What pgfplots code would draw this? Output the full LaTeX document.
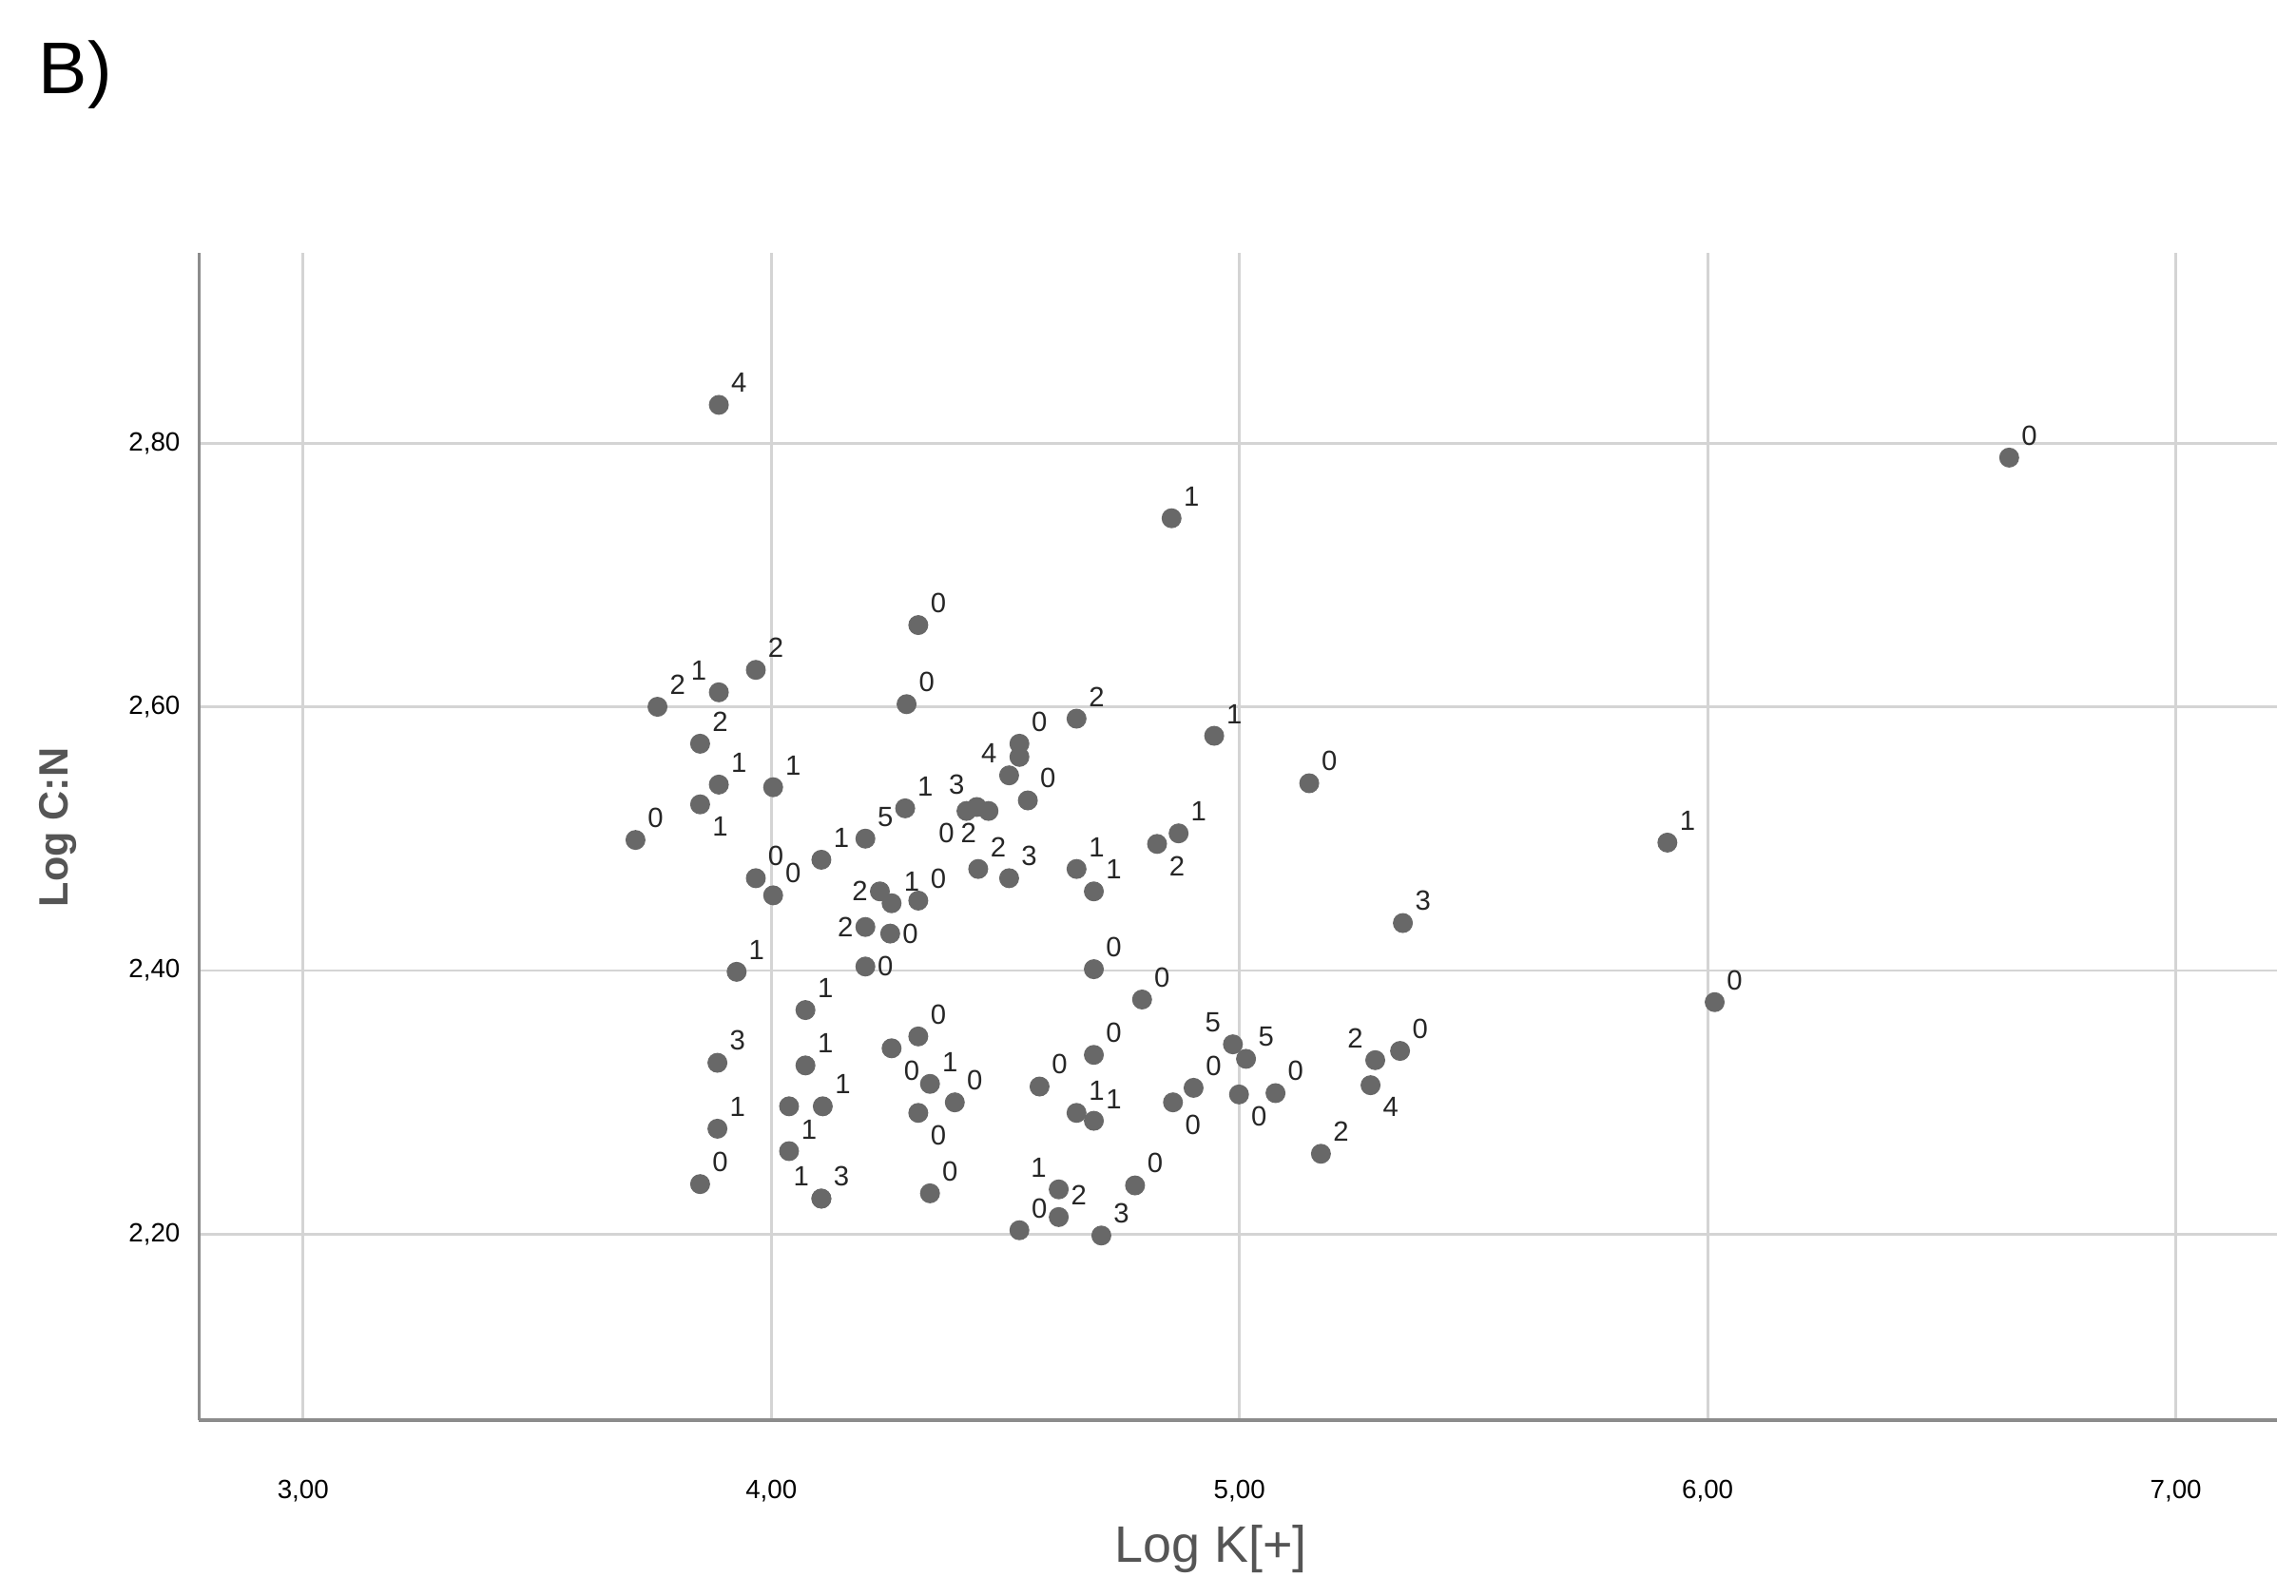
\documentclass[border=0pt]{standalone}
\usepackage{fontspec}
\setmainfont{Liberation Sans}
\usepackage{pgfplots}
\usepackage{pgfplotstable}
\pgfplotsset{compat=1.18}

\definecolor{dotgray}{RGB}{104,104,104}
\definecolor{gridgray}{RGB}{212,212,212}
\definecolor{axisgray}{RGB}{140,140,140}
\definecolor{labelgray}{RGB}{85,85,85}

% x = Log K[+], y = Log C:N, lab = case label
% grouped by where the label sits next to its point

% label up-right
\pgfplotstableread{
x     y     lab
3.888 2.829 4
6.644 2.789 0
4.855 2.743 1
4.314 2.662 0
3.967 2.628 2
3.757 2.600 2
4.289 2.602 0
4.652 2.591 2
3.848 2.572 2
4.946 2.578 1
4.530 2.572 0
5.149 2.542 0
3.888 2.541 1
4.004 2.539 1
4.548 2.529 0
4.286 2.523 1
3.710 2.499 0
4.201 2.500 5
4.107 2.484 1
4.870 2.504 1
5.914 2.497 1
4.442 2.477 2
4.508 2.470 3
4.314 2.453 0
4.652 2.477 1
4.689 2.460 1
3.967 2.470 0
4.004 2.457 0
4.257 2.451 1
3.926 2.399 1
5.349 2.436 3
4.689 2.401 0
4.792 2.378 0
6.015 2.376 0
4.073 2.370 1
4.314 2.350 0
4.689 2.336 0
5.014 2.333 5
5.343 2.339 0
3.885 2.330 3
4.073 2.328 1
4.339 2.314 1
4.573 2.312 0
4.902 2.311 0
5.077 2.307 0
4.110 2.297 1
3.885 2.280 1
4.038 2.263 1
4.392 2.300 0
4.652 2.292 1
4.689 2.286 1
3.848 2.238 0
4.107 2.227 3
4.339 2.231 0
4.614 2.213 2
4.530 2.203 0
4.777 2.237 0
4.705 2.199 3
5.174 2.261 2
}\cnUR

% label down-right
\pgfplotstableread{
x     y     lab
3.848 2.526 1
4.824 2.496 2
4.257 2.341 0
5.280 2.313 4
4.999 2.306 0
4.858 2.300 0
4.314 2.292 0
}\cnDR

% label up-left
\pgfplotstableread{
x     y     lab
3.888 2.611 1
4.508 2.548 4
4.439 2.524 3
4.986 2.344 5
5.290 2.332 2
4.107 2.227 1
4.614 2.234 1
}\cnUL

% label down-left
\pgfplotstableread{
x     y     lab
4.417 2.521 0
4.464 2.521 2
}\cnDL

% label right
\pgfplotstableread{
x     y     lab
4.254 2.428 0
4.201 2.403 0
}\cnR

% label left
\pgfplotstableread{
x     y     lab
4.232 2.460 2
4.201 2.433 2
}\cnL

% points whose labels are hidden under their neighbours
\pgfplotstableread{
x     y
4.530 2.562
4.038 2.297
}\cnhidden

\pgfplotsset{
  cnpts/.style={only marks, mark=*, mark size=3.2pt,
    mark options={draw=dotgray, fill=dotgray},
    point meta=explicit symbolic,
    nodes near coords,
    nodes near coords style={anchor=#1, inner sep=4pt,
        font=\fontsize{9.5}{10}\selectfont, text=black!85}},
}

\begin{document}
\begin{tikzpicture}
\path[use as bounding box] (-68pt,-60pt) rectangle (716pt,485pt);
\node[anchor=base west, inner sep=0pt, font=\fontsize{25}{28}\selectfont] at (-55pt,453pt) {B)};
\begin{axis}[
    at={(0pt,0pt)}, anchor=south west,
    scale only axis, width=709.5pt, height=398.5pt,
    xmin=2.778, xmax=7.216,
    ymin=2.059, ymax=2.944,
    xtick={3,4,5,6,7},
    ytick={2.2,2.4,2.6,2.8},
    axis x line*=bottom, axis y line*=left,
    axis line style={-, draw=axisgray, line width=1.2pt},
    major tick length=0pt,
    grid=major,
    major grid style={draw=gridgray, line width=0.9pt},
    ticklabel style={font=\fontsize{9}{10}\selectfont},
    /pgf/number format/.cd, fixed, fixed zerofill, precision=2, use comma, assume math mode=true,
    /pgfplots/.cd,
    xticklabel style={yshift=-17pt},
    yticklabel style={xshift=-3pt},
    xlabel={Log K[+]},
    ylabel={Log C:N},
    xlabel style={font=\fontsize{17.5}{20}\selectfont, text=labelgray,
        at={(axis description cs:0.487,-0.1104)}, anchor=center},
    ylabel style={font=\bfseries\fontsize{14}{16}\selectfont, text=labelgray,
        at={(axis description cs:-0.0677,0.508)}, anchor=center},
    clip=false,
]
\addplot[cnpts=south west] table[x=x, y=y, meta=lab] {\cnUR};
\addplot[cnpts=north west] table[x=x, y=y, meta=lab] {\cnDR};
\addplot[cnpts=south east] table[x=x, y=y, meta=lab] {\cnUL};
\addplot[cnpts=north east] table[x=x, y=y, meta=lab] {\cnDL};
\addplot[cnpts=west] table[x=x, y=y, meta=lab] {\cnR};
\addplot[cnpts=east] table[x=x, y=y, meta=lab] {\cnL};
\addplot[only marks, mark=*, mark size=3.2pt,
    mark options={draw=dotgray, fill=dotgray}] table[x=x, y=y] {\cnhidden};
\end{axis}
\end{tikzpicture}
\end{document}
